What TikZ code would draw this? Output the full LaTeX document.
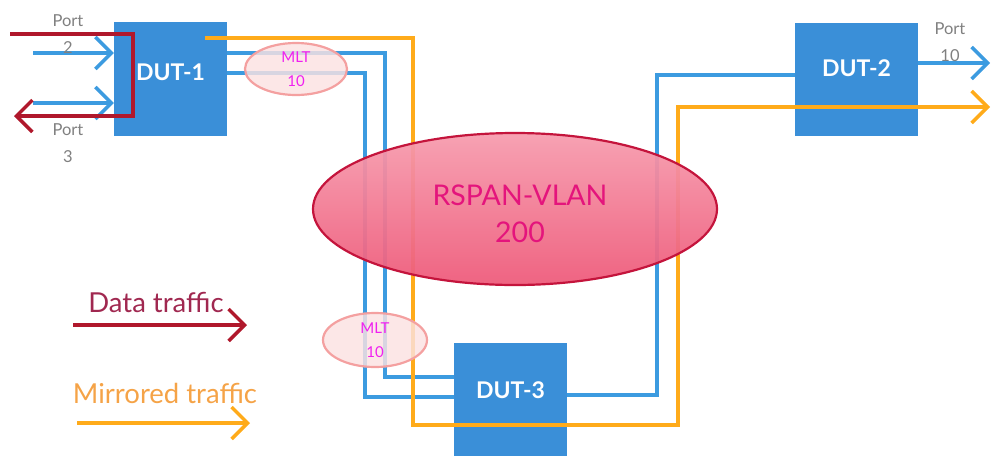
\documentclass[tikz,border=0pt]{standalone}
\usepackage{fontspec}
\setmainfont{Lato}
\usetikzlibrary{arrows.meta,shapes.geometric}
\definecolor{boxblue}{HTML}{3A8FD8}
\definecolor{lineblue}{HTML}{3C9BE0}
\definecolor{lineorange}{HTML}{FFAB1A}
\definecolor{linered}{HTML}{B0182C}
\definecolor{porttext}{HTML}{808080}
\definecolor{mltfill}{HTML}{FBE2E2}
\definecolor{mltborder}{HTML}{F4A0A0}
\definecolor{mlttext}{HTML}{F020F0}
\definecolor{rspantop}{HTML}{F69CAE}
\definecolor{rspanbot}{HTML}{EE5A7A}
\definecolor{rspanborder}{HTML}{C4143C}
\definecolor{rspantext}{HTML}{E4147C}
\definecolor{datatext}{HTML}{A02850}
\definecolor{mirrtext}{HTML}{F5A347}
\begin{document}
\begin{tikzpicture}[x=1pt,y=-1pt,
  dutbox/.style={fill=boxblue, draw=none, inner sep=0pt},
  dutlabel/.style={text=white, font=\fontsize{23}{26}\selectfont\bfseries},
  blueline/.style={draw=lineblue, line width=3.4pt},
  orangeline/.style={draw=lineorange, line width=3.4pt},
  redline/.style={draw=linered, line width=3.4pt},
  tip/.tip={Straight Barb[length=16pt,width=32pt]},
  portlabel/.style={text=porttext, font=\fontsize{16.5}{27}\selectfont, align=center},
  mlt/.style={ellipse, draw=mltborder, line width=2.2pt, fill=mltfill, fill opacity=0.82, text opacity=1,
    text=mlttext, font=\fontsize{15}{24}\selectfont, align=center, inner sep=0pt},
  legendtext/.style={font=\fontsize{27.5}{30}\selectfont}
]
\useasboundingbox (0,0) rectangle (991,456);

% device boxes
\node[dutbox, minimum width=113pt, minimum height=114pt] (dut1) at (170.5,79) {};
\node[dutbox, minimum width=123pt, minimum height=113pt] (dut2) at (856.5,79.5) {};
\node[dutbox, minimum width=113pt, minimum height=113pt] (dut3) at (510.5,399.5) {};

% free ends
\coordinate (pin2) at (33,53);
\coordinate (pin3) at (33,103);
\coordinate (redin) at (10,34);
\coordinate (redout) at (14,116);
\coordinate (p10) at (990,63);
\coordinate (oend) at (990,107);

% port arrows at DUT-1
\draw[blueline,-tip] (pin2) -- (pin2 -| dut1.west);
\draw[blueline,-tip] (pin3) -- (pin3 -| dut1.west);
% data traffic
\draw[redline,-tip] (redin) -| (133,116) -- (redout);

% blue links
\draw[blueline] ([yshift=26pt]dut1.east) -| (385,377) -- ([yshift=22.5pt]dut3.west);
\draw[blueline] ([yshift=6pt]dut1.east) -| (365,397) -- ([yshift=2.5pt]dut3.west);
\draw[blueline] ([yshift=4.5pt]dut3.east) -| (657,75) -- ([yshift=4.5pt]dut2.west);
\draw[blueline,-tip] ([yshift=16.5pt]dut2.east) -- (p10);

% mirrored traffic
\draw[orangeline,-tip] ([xshift=-22pt,yshift=41pt]dut1.east) -| (413,425) -| (678,107) -- (oend);

% RSPAN VLAN cloud
\node[ellipse, draw=rspanborder, line width=2.2pt, top color=rspantop, bottom color=rspanbot,
  fill opacity=0.94, minimum width=404pt, minimum height=152pt, inner sep=0pt] (rspan) at (515,209) {};
\node[text=rspantext, font=\fontsize{28.5}{37}\selectfont, align=center] (rspanlabel) at (520,214) {RSPAN-VLAN\\200};

% MLT ellipses
\node[mlt, minimum width=102pt, minimum height=52pt] (mlt1) at (296,69) {MLT\\10};
\node[mlt, minimum width=104pt, minimum height=54pt] (mlt2) at (375,340) {MLT\\10};

% box labels
\node[dutlabel] (l1) at ([yshift=7pt]dut1.center) {DUT-1};
\node[dutlabel] (l2) at ([yshift=11.5pt]dut2.center) {DUT-2};
\node[dutlabel] (l3) at ([yshift=9.5pt]dut3.center) {DUT-3};

% port labels
\node[portlabel] (port2) at (68,34.5) {Port\\2};
\node[portlabel] (port3) at (68,143.5) {Port\\3};
\node[portlabel] (port10) at (950,42.5) {Port\\10};

% legend
\node[legendtext, text=datatext] (ldata) at (156,302) {Data traffic};
\coordinate (ld1) at (73,325);
\coordinate (ld2) at (247,325);
\draw[redline,-tip] (ld1) -- (ld2);
\node[legendtext, text=mirrtext] (lmirr) at (165,393) {Mirrored traffic};
\coordinate (lm1) at (77,423);
\coordinate (lm2) at (250,423);
\draw[orangeline,-tip] (lm1) -- (lm2);
\end{tikzpicture}
\end{document}
